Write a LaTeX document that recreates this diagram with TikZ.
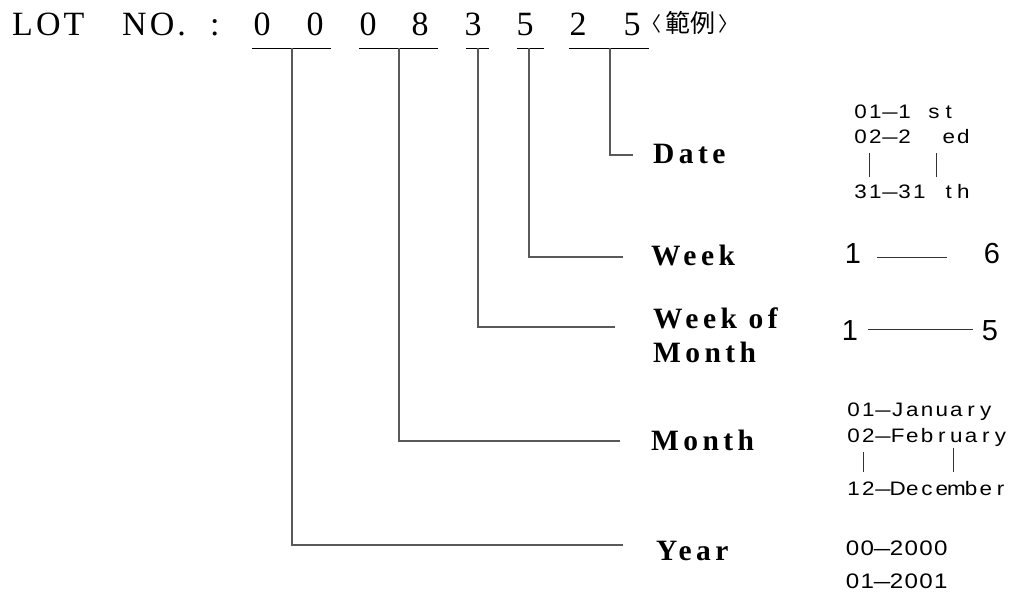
\documentclass[tikz,border=0pt]{standalone}
\usepackage{fontspec}
\usepackage{graphicx}
\setmainfont{Liberation Serif}
\newfontfamily\lotfont[LetterSpace=9]{Liberation Serif}
\newfontfamily\lblfont[LetterSpace=15]{Liberation Serif}
\newfontfamily\cadsans{Liberation Sans}
\newfontfamily\cadwide[FakeStretch=1.15]{Liberation Sans}
\newfontfamily\cjk{Noto Sans CJK TC}
\makeatletter
\newlength\mpitch \setlength\mpitch{14.7pt}
\newcommand\mono[1]{\@tfor\mc:=#1\do{\makebox[\mpitch][c]{\mc}}}
\makeatother
\newcommand\cdash{\scalebox{0.68}[1]{—}}
\begin{document}
\begin{tikzpicture}[x=1pt,y=-1pt,
  lot/.style={font=\lotfont\fontsize{34}{34}\selectfont, inner sep=0pt, anchor=base},
  lbl/.style={font=\lblfont\bfseries\fontsize{29.5}{35}\selectfont, inner sep=0pt, anchor=base west},
  cad/.style={font=\cadwide\fontsize{19.5}{25}\selectfont, inner sep=0pt, anchor=base west},
  cadl/.style={font=\cadwide\fontsize{21}{25}\selectfont, inner sep=0pt, anchor=base west},
  big/.style={font=\cadsans\fontsize{29}{30}\selectfont, inner sep=0pt, anchor=base},
  uline/.style={line width=1pt, black},
  conn/.style={line width=1.1pt, black!65},
  bar/.style={line width=0.9pt, black!80}]
\useasboundingbox (0,0) rectangle (1030,600);

% top row
\node[lot, anchor=base west] (lot) at (12,35) {LOT};
\node[lot, anchor=base west] (no) at (122,35) {NO.};
\node[lot, anchor=base west] (colon) at (210,35) {:};
\node[lot] (d1) at (262,35) {0};
\node[lot] (d2) at (315,35) {0};
\node[lot] (d3) at (368,35) {0};
\node[lot] (d4) at (420,35) {8};
\node[lot] (d5) at (473,35) {3};
\node[lot] (d6) at (525,35) {5};
\node[lot] (d7) at (578,35) {2};
\node[lot] (d8) at (632,35) {5};
\node[font=\cjk\fontsize{20}{20}\selectfont, inner sep=0pt, anchor=base east] (lb) at (662,31) {〈};
\node[font=\cjk\fontsize{25}{25}\selectfont, inner sep=0pt, anchor=base] (ex) at (690,32) {範例};
\node[font=\cjk\fontsize{20}{20}\selectfont, inner sep=0pt, anchor=base west] (rb) at (718,31) {〉};

% underlines
\draw[uline] (252,48) -- (331,48);
\draw[uline] (359,48) -- (438,48);
\draw[uline] (466,48) -- (489,48);
\draw[uline] (517,48) -- (544,48);
\draw[uline] (569,48) -- (649,48);
\coordinate (u1) at (292,48);
\coordinate (u2) at (399,48);
\coordinate (u3) at (478,48);
\coordinate (u4) at (529,48);
\coordinate (u5) at (610,48);

% labels
\node[lbl] (date) at (653,163) {Date};
\node[lbl] (week) at (651,265) {Week};
\node[lbl] (wom) at (653,328) {Week of};
\node[lbl] (wom2) at (653,362) {Month};
\node[lbl] (month) at (651,450) {Month};
\node[lbl] (year) at (656,560) {Year};

% connector ends
\coordinate (eDate) at (633,155);
\coordinate (eWeek) at (623,257);
\coordinate (eWom) at (615,327);
\coordinate (eMonth) at (620,441);
\coordinate (eYear) at (623,545);

\draw[conn] (u5) |- (eDate);
\draw[conn] (u4) |- (eWeek);
\draw[conn] (u3) |- (eWom);
\draw[conn] (u2) |- (eMonth);
\draw[conn] (u1) |- (eYear);

% Date values
\node[cad] (dt1) at (853,118) {\mono{01\cdash1~st}};
\node[cad] (dt2) at (853,143) {\mono{02\cdash2~~ed}};
\node[cad] (dt3) at (853,198) {\mono{31\cdash31~th}};
\draw[bar] (869,153) -- (869,177);
\draw[bar] (936,153) -- (936,177);

% Week values
\node[big] (wk1) at (853,263) {1};
\node[big] (wk6) at (992,263) {6};
\draw[bar] (877,257) -- (947,257);

% Week of Month values
\node[big] (wm1) at (850,340) {1};
\node[big] (wm5) at (990,340) {5};
\draw[bar] (868,329) -- (973,329);

% Month values
\node[cad] (m1) at (846,416) {\mono{01\cdash January}};
\node[cad] (m2) at (846,442) {\mono{02\cdash February}};
\node[cad] (m3) at (846,495) {\mono{12\cdash December}};
\draw[bar] (863,452) -- (863,472);
\draw[bar] (953,448) -- (953,472);

% Year values
\node[cadl] (y1) at (845,555) {\mono{00\cdash2000}};
\node[cadl] (y2) at (845,588) {\mono{01\cdash2001}};
\end{tikzpicture}
\end{document}
